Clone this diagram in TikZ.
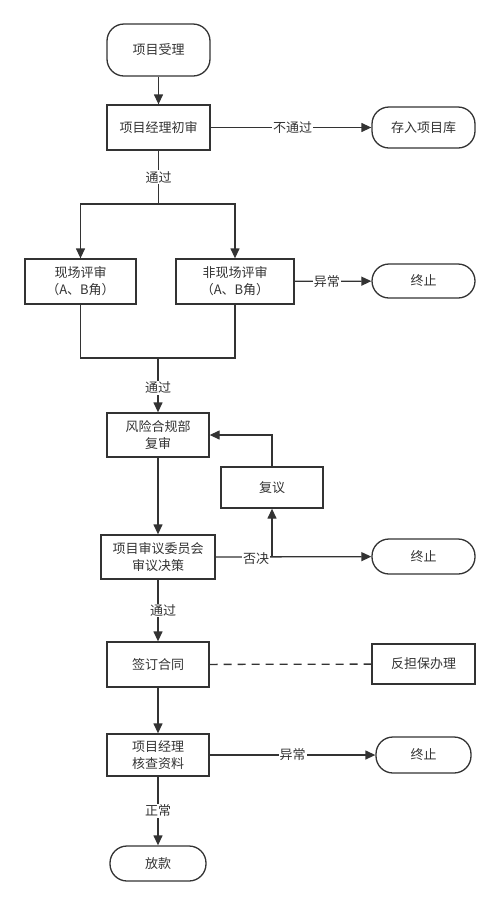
\documentclass[tikz,border=0pt]{standalone}
\usepackage{fontspec}
\setmainfont{Noto Sans CJK SC}
\usetikzlibrary{arrows.meta}
\definecolor{ink}{HTML}{333333}
\tikzset{
  box/.style={draw=ink, line width=1.3pt, text=ink, align=center, inner sep=0pt,
    font=\fontsize{13}{17}\selectfont},
  term/.style={box, rounded corners=17pt},
  conn/.style={draw=ink, line width=1.3pt, -{Triangle[length=10pt,width=9pt]}},
  plain/.style={draw=ink, line width=1.3pt},
  lbl/.style={fill=white, text=ink, inner sep=1pt, font=\fontsize{13}{15}\selectfont}
}
\begin{document}
\begin{tikzpicture}[x=1pt,y=-1pt]
\useasboundingbox (0,0) rectangle (500,906);
\node[term, minimum width=103pt, minimum height=52pt] (start) at (158.5,50) {项目受理};
\node[box, minimum width=103pt, minimum height=45pt] (s1) at (158.5,127.5) {项目经理初审};
\node[term, minimum width=103pt, minimum height=41pt] (store) at (423.5,127.5) {存入项目库};
\node[box, minimum width=111pt, minimum height=45pt] (onsite) at (80.5,281.5) {现场评审\\（A、B角）};
\node[box, minimum width=118pt, minimum height=45pt] (offsite) at (235,281.5) {非现场评审\\（A、B角）};
\node[term, minimum width=103pt, minimum height=34pt] (end1) at (423.5,281) {终止};
\node[box, minimum width=102pt, minimum height=44pt] (risk) at (158,435) {风险合规部\\复审};
\node[box, minimum width=102pt, minimum height=41pt] (recon) at (272,487.5) {复议};
\node[box, minimum width=114pt, minimum height=44pt] (comm) at (158,557) {项目审议委员会\\审议决策};
\node[term, minimum width=103pt, minimum height=35pt] (end2) at (423.5,556.5) {终止};
\node[box, minimum width=102pt, minimum height=45pt] (sign) at (158,664.5) {签订合同};
\node[box, minimum width=103pt, minimum height=40pt] (guar) at (423.5,664) {反担保办理};
\node[box, minimum width=102pt, minimum height=42pt] (check) at (158,755) {项目经理\\核查资料};
\node[term, minimum width=95pt, minimum height=36pt] (end3) at (423.5,755) {终止};
\node[term, minimum width=96pt, minimum height=35pt] (loan) at (158,863.5) {放款};

\coordinate (split) at (158.5,204);
\coordinate (merge) at (158,358);
\coordinate (veto) at (272,557);

\draw[conn] (start) -- (s1);
\draw[conn] (s1) -- node[lbl, pos=0.51] {不通过} (store);
\draw[plain] (s1.south) -- node[lbl, pos=0.5] {通过} (split);
\draw[conn] (split) -| (onsite.north);
\draw[conn] (split) -| (offsite.north);
\draw[plain] (onsite.south) |- (merge) -| (offsite.south);
\draw[conn] (merge) -- node[lbl, pos=0.55] {通过} (risk);
\draw[conn] (offsite) -- node[lbl, pos=0.42] {异常} (end1);
\draw[conn] (risk) -- (comm);
\draw[conn] (comm.east) -- (end2);
\node[lbl] (vetolbl) at (256,559) {否决};
\draw[conn] (veto) -- (recon.south);
\draw[conn] (recon.north) |- (risk.east);
\draw[conn] (comm) -- node[lbl, pos=0.5, xshift=5pt] {通过} (sign);
\draw[plain, dashed, dash pattern=on 8pt off 6pt] (sign) -- (guar);
\draw[conn] (sign) -- (check);
\draw[conn] (check) -- node[lbl, pos=0.5] {异常} (end3);
\draw[conn] (check) -- node[lbl, pos=0.5] {正常} (loan);
\end{tikzpicture}
\end{document}
